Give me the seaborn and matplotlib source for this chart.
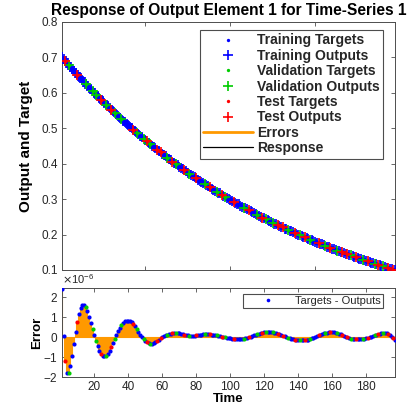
import numpy as np
import pandas as pd
import matplotlib
matplotlib.use("Agg")
import matplotlib.pyplot as plt
import seaborn as sns
from matplotlib.lines import Line2D
from matplotlib.ticker import ScalarFormatter

# ---------------- data ----------------
time = list(range(1, 198))

targets = [
    0.700, 0.695, 0.689, 0.684, 0.678, 0.673, 0.667, 0.662, 0.657, 0.651,
    0.646, 0.641, 0.635, 0.630, 0.625, 0.620, 0.615, 0.610, 0.605, 0.600,
    0.595, 0.590, 0.586, 0.581, 0.576, 0.571, 0.567, 0.562, 0.557, 0.552,
    0.548, 0.543, 0.539, 0.535, 0.530, 0.526, 0.521, 0.517, 0.513, 0.508,
    0.504, 0.500, 0.495, 0.491, 0.487, 0.483, 0.479, 0.475, 0.471, 0.467,
    0.463, 0.459, 0.455, 0.451, 0.447, 0.443, 0.440, 0.436, 0.432, 0.428,
    0.424, 0.421, 0.417, 0.414, 0.410, 0.406, 0.403, 0.399, 0.396, 0.392,
    0.389, 0.385, 0.382, 0.379, 0.375, 0.372, 0.369, 0.365, 0.362, 0.359,
    0.355, 0.352, 0.349, 0.346, 0.343, 0.340, 0.337, 0.334, 0.330, 0.327,
    0.324, 0.321, 0.318, 0.316, 0.313, 0.310, 0.307, 0.304, 0.301, 0.298,
    0.295, 0.293, 0.290, 0.287, 0.285, 0.282, 0.279, 0.276, 0.274, 0.271,
    0.268, 0.266, 0.263, 0.261, 0.258, 0.256, 0.253, 0.251, 0.248, 0.246,
    0.243, 0.241, 0.238, 0.236, 0.234, 0.231, 0.229, 0.227, 0.224, 0.222,
    0.220, 0.217, 0.215, 0.213, 0.211, 0.209, 0.207, 0.204, 0.202, 0.200,
    0.198, 0.196, 0.194, 0.192, 0.190, 0.188, 0.186, 0.184, 0.181, 0.179,
    0.177, 0.175, 0.174, 0.172, 0.170, 0.168, 0.166, 0.164, 0.162, 0.160,
    0.158, 0.157, 0.155, 0.153, 0.151, 0.150, 0.148, 0.146, 0.144, 0.142,
    0.141, 0.139, 0.137, 0.136, 0.134, 0.132, 0.131, 0.129, 0.127, 0.126,
    0.124, 0.123, 0.121, 0.119, 0.118, 0.116, 0.115, 0.113, 0.112, 0.110,
    0.109, 0.107, 0.106, 0.104, 0.103, 0.101, 0.100,
]

# Targets - Outputs, in units of 1e-6
errors_e6 = [
    2.38, 0.07, -1.20, -1.78, -1.78, -1.45, -0.95, -0.35, 0.25, 0.75,
    1.15, 1.45, 1.60, 1.62, 1.52, 1.30, 1.02, 0.72, 0.42, 0.12,
    -0.18, -0.45, -0.68, -0.84, -0.93, -0.96, -0.93, -0.84, -0.70, -0.52,
    -0.32, -0.10, 0.10, 0.30, 0.47, 0.61, 0.72, 0.79, 0.82, 0.82,
    0.79, 0.73, 0.64, 0.53, 0.40, 0.26, 0.12, 0.00, -0.11, -0.20,
    -0.27, -0.31, -0.33, -0.33, -0.31, -0.27, -0.21, -0.14, -0.07, 0.00,
    0.05, 0.09, 0.12, 0.15, 0.17, 0.18, 0.19, 0.19, 0.19, 0.18,
    0.16, 0.14, 0.12, 0.10, 0.08, 0.07, 0.06, 0.06, 0.07, 0.08,
    0.09, 0.11, 0.12, 0.13, 0.14, 0.14, 0.14, 0.13, 0.12, 0.11,
    0.10, 0.08, 0.06, 0.04, 0.02, 0.00, -0.02, -0.04, -0.06, -0.07,
    -0.08, -0.09, -0.10, -0.10, -0.10, -0.10, -0.09, -0.08, -0.06, -0.04,
    -0.01, 0.02, 0.05, 0.08, 0.11, 0.14, 0.17, 0.19, 0.21, 0.23,
    0.24, 0.25, 0.25, 0.25, 0.24, 0.22, 0.20, 0.17, 0.14, 0.11,
    0.07, 0.04, 0.00, -0.03, -0.06, -0.09, -0.11, -0.13, -0.15, -0.16,
    -0.17, -0.17, -0.17, -0.16, -0.15, -0.13, -0.10, -0.07, -0.04, 0.00,
    0.04, 0.08, 0.11, 0.15, 0.18, 0.20, 0.22, 0.23, 0.23, 0.23,
    0.23, 0.21, 0.19, 0.16, 0.13, 0.09, 0.05, 0.02, -0.02, -0.05,
    -0.08, -0.10, -0.11, -0.12, -0.12, -0.12, -0.12, -0.11, -0.09, -0.07,
    -0.04, -0.01, 0.02, 0.05, 0.08, 0.11, 0.14, 0.17, 0.19, 0.20,
    0.20, 0.19, 0.15, 0.09, 0.02, -0.07, -0.17,
]

validation_steps = [5, 15, 19, 21, 27, 32, 36, 45, 49, 53, 63, 68, 76, 85, 92,
                    97, 108, 116, 121, 125, 134, 141, 147, 156, 163, 171, 178,
                    185, 190]
test_steps = [3, 10, 24, 30, 43, 51, 57, 59, 66, 73, 80, 88, 95, 102, 111, 119,
              128, 131, 138, 144, 152, 159, 166, 169, 174, 181, 187, 193, 196]

title = "Response of Output Element 1 for Time-Series 1"
legend_labels = ["Training Targets", "Training Outputs", "Validation Targets",
                 "Validation Outputs", "Test Targets", "Test Outputs",
                 "Errors", "Response"]

# ---------------- styling ----------------
sns.set_style("ticks")
plt.rcParams["font.family"] = ["Liberation Sans", "DejaVu Sans"]
plt.rcParams["axes.unicode_minus"] = True

BLUE, GREEN, RED = "#0000FF", "#00CC00", "#FF0000"
ORANGE = "#FF9900"
AXCOL = "#4d4d4d"
TXTCOL = "#262626"

split = []
for t in time:
    if t in validation_steps:
        split.append("Validation")
    elif t in test_steps:
        split.append("Test")
    else:
        split.append("Training")

df = pd.DataFrame({"Time": time, "Target": targets,
                   "Error": np.array(errors_e6) * 1e-6, "Split": split})
df["Output"] = df["Target"] - df["Error"]
colors = {"Training": BLUE, "Validation": GREEN, "Test": RED}

W, H = 415, 407
fig = plt.figure(figsize=(W / 100, H / 100), dpi=100)
ax1 = fig.add_axes([62 / W, 1 - 270 / H, 333 / W, 248 / H])
ax2 = fig.add_axes([62 / W, 1 - 377 / H, 333 / W, 89 / H])

# ---------------- top: response ----------------
sns.lineplot(data=df, x="Time", y="Output", color="black", lw=0.8, ax=ax1,
             legend=False, zorder=1)
ax1.vlines(df["Time"], df["Target"], df["Output"], color=ORANGE, lw=1.5, zorder=2)
for s in ["Training", "Validation", "Test"]:
    sub = df[df["Split"] == s]
    sns.scatterplot(data=sub, x="Time", y="Target", marker="o", s=8,
                    color=colors[s], linewidth=0, ax=ax1, legend=False, zorder=3)
    sns.scatterplot(data=sub, x="Time", y="Output", marker="+", s=55,
                    color=colors[s], linewidth=1.2, ax=ax1, legend=False, zorder=3)

ax1.set_xlim(1, 197)
ax1.set_ylim(0.1, 0.8)
ax1.set_xticks([50, 100, 150])
ax1.set_xticklabels([])
ax1.set_yticks(np.round(np.arange(0.1, 0.81, 0.1), 1))
ax1.set_yticklabels([f"{v:.1f}" for v in np.arange(0.1, 0.81, 0.1)])
ax1.set_xlabel("")
ax1.set_ylabel("Output and Target", fontsize=11, fontweight="bold",
               color="black", labelpad=6)
ax1.set_title(title, fontsize=11.2, fontweight="bold", color="black", pad=5)

handles = [
    Line2D([], [], ls="", marker="o", ms=2.4, mew=0, color=BLUE),
    Line2D([], [], ls="", marker="+", ms=6.5, mew=1.2, color=BLUE),
    Line2D([], [], ls="", marker="o", ms=2.4, mew=0, color=GREEN),
    Line2D([], [], ls="", marker="+", ms=6.5, mew=1.2, color=GREEN),
    Line2D([], [], ls="", marker="o", ms=2.4, mew=0, color=RED),
    Line2D([], [], ls="", marker="+", ms=6.5, mew=1.2, color=RED),
    Line2D([], [], color=ORANGE, lw=2),
    Line2D([], [], color="black", lw=0.9),
]
leg = ax1.legend(handles, legend_labels, loc="upper right",
                 bbox_to_anchor=(1 - 12 / 333, 1 - 8 / 248), borderaxespad=0,
                 prop={"weight": "bold", "size": 10}, handlelength=3.6,
                 handletextpad=0.25, labelspacing=0.1, borderpad=0.25,
                 fancybox=False, framealpha=1, edgecolor=AXCOL)
leg.get_frame().set_linewidth(0.8)

# ---------------- bottom: error ----------------
ax2.axhline(0, color=ORANGE, lw=0.8, zorder=1)
ax2.vlines(df["Time"], 0, df["Error"], color=ORANGE, lw=1.5, zorder=1)
for s in ["Training", "Validation", "Test"]:
    sub = df[df["Split"] == s]
    sns.scatterplot(data=sub, x="Time", y="Error", marker="o", s=9,
                    color=colors[s], linewidth=0, ax=ax2, legend=False, zorder=3)

ax2.set_xlim(1, 197)
ax2.set_ylim(-2e-6, 2.45e-6)
ax2.set_xticks(list(range(20, 181, 20)))
ax2.set_yticks([-2e-6, -1e-6, 0, 1e-6, 2e-6])
fmt = ScalarFormatter(useMathText=True)
fmt.set_powerlimits((-3, 3))
ax2.yaxis.set_major_formatter(fmt)
ax2.yaxis.get_offset_text().set_fontsize(8)
ax2.yaxis.get_offset_text().set_color(TXTCOL)
ax2.set_xlabel("Time", fontsize=9.5, fontweight="bold", color="black", labelpad=0)
ax2.set_ylabel("Error", fontsize=9.5, fontweight="bold", color="black", labelpad=0)

h2 = [Line2D([], [], ls="", marker="o", ms=2.6, mew=0, color=BLUE)]
leg2 = ax2.legend(h2, ["Targets - Outputs"], loc="upper right",
                  bbox_to_anchor=(1 - 12 / 333, 1 - 6 / 89), borderaxespad=0,
                  prop={"size": 8}, handlelength=4.2, handletextpad=0.3,
                  borderpad=0.2, fancybox=False, framealpha=1, edgecolor=AXCOL)
leg2.get_frame().set_linewidth(0.8)

for ax in (ax1, ax2):
    ax.tick_params(direction="in", top=True, right=True, length=3, width=0.6,
                   colors=AXCOL, labelcolor=TXTCOL, labelsize=8.5, pad=3)
    for sp in ax.spines.values():
        sp.set_visible(True)
        sp.set_color(AXCOL)
        sp.set_linewidth(0.7)

fig.savefig("out.png", dpi=100)
